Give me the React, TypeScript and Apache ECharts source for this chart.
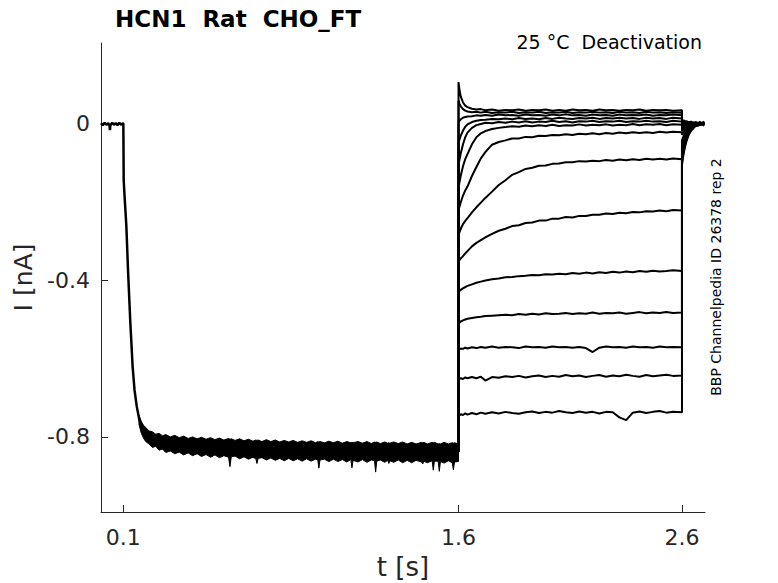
import React, { useEffect, useRef } from "react";
import * as echarts from "echarts";

// ---------- axis ticks ----------
const xTickValues = [0.1, 1.6, 2.6];
const yTickValues = [-0.8, -0.4, 0];

// ---------- holding + conditioning step (shared by all sweeps) ----------
const preT = [0, 0.008, 0.016, 0.024, 0.032, 0.038, 0.04, 0.042, 0.05, 0.058, 0.066, 0.074, 0.082, 0.09, 0.098, 0.1, 0.1008, 0.1015, 0.106, 0.1134, 0.121, 0.131, 0.1415, 0.15, 0.16, 0.17, 0.18, 0.19];
const preI = [0.002, -0.003, 0.003, -0.002, 0.002, -0.004, -0.016, -0.003, 0.003, -0.002, 0.002, -0.003, 0.003, -0.002, 0.002, 0.0, -0.07, -0.143, -0.19, -0.26, -0.375, -0.505, -0.62, -0.68, -0.722, -0.752, -0.772, -0.785];

// noisy band of the overlapping sweeps during the conditioning step (upper / lower envelope)
const bandT = [
  0.17, 0.18, 0.19, 0.2, 0.215, 0.23, 0.245, 0.26, 0.275, 0.29,
  0.31, 0.33, 0.35, 0.37, 0.39, 0.41, 0.43, 0.45, 0.47, 0.49,
  0.51, 0.53, 0.55, 0.571, 0.577, 0.583, 0.6, 0.62, 0.64, 0.66,
  0.68, 0.693, 0.698, 0.703, 0.72, 0.74, 0.76, 0.78, 0.8, 0.82,
  0.84, 0.86, 0.88, 0.9, 0.92, 0.94, 0.96, 0.97, 0.975, 0.98,
  1.0, 1.02, 1.04, 1.06, 1.08, 1.1, 1.118, 1.123, 1.128, 1.15,
  1.17, 1.19, 1.21, 1.224, 1.229, 1.234, 1.25, 1.27, 1.283, 1.288,
  1.293, 1.31, 1.33, 1.35, 1.37, 1.39, 1.41, 1.435, 1.44, 1.445,
  1.46, 1.482, 1.487, 1.492, 1.509, 1.514, 1.519, 1.535, 1.555, 1.572,
  1.577, 1.582, 1.6,
];
const bandUp = [
  -0.745, -0.76, -0.77, -0.776, -0.785, -0.787, -0.793, -0.791, -0.797, -0.794,
  -0.8, -0.796, -0.802, -0.798, -0.804, -0.8, -0.805, -0.801, -0.806, -0.802,
  -0.807, -0.803, -0.808, -0.804, -0.806, -0.805, -0.809, -0.805, -0.81, -0.806,
  -0.811, -0.808, -0.809, -0.808, -0.812, -0.807, -0.812, -0.808, -0.813, -0.809,
  -0.813, -0.809, -0.814, -0.81, -0.814, -0.81, -0.815, -0.812, -0.813, -0.812,
  -0.815, -0.811, -0.815, -0.811, -0.816, -0.812, -0.815, -0.814, -0.815, -0.812,
  -0.816, -0.812, -0.817, -0.813, -0.814, -0.813, -0.817, -0.813, -0.816, -0.815,
  -0.816, -0.813, -0.817, -0.813, -0.818, -0.814, -0.818, -0.814, -0.815, -0.814,
  -0.818, -0.814, -0.815, -0.814, -0.818, -0.817, -0.818, -0.814, -0.818, -0.815,
  -0.816, -0.815, -0.818,
];
const bandLo = [
  -0.768, -0.79, -0.803, -0.812, -0.818, -0.827, -0.824, -0.834, -0.831, -0.84,
  -0.836, -0.843, -0.839, -0.846, -0.841, -0.848, -0.843, -0.85, -0.845, -0.852,
  -0.846, -0.853, -0.848, -0.852, -0.876, -0.851, -0.849, -0.856, -0.851, -0.857,
  -0.852, -0.856, -0.868, -0.855, -0.853, -0.859, -0.854, -0.86, -0.855, -0.861,
  -0.855, -0.861, -0.856, -0.862, -0.856, -0.862, -0.857, -0.858, -0.88, -0.859,
  -0.857, -0.863, -0.857, -0.863, -0.858, -0.864, -0.858, -0.879, -0.86, -0.864,
  -0.858, -0.865, -0.859, -0.861, -0.89, -0.862, -0.859, -0.865, -0.86, -0.868,
  -0.861, -0.865, -0.859, -0.866, -0.86, -0.866, -0.86, -0.864, -0.869, -0.862,
  -0.866, -0.861, -0.885, -0.862, -0.862, -0.888, -0.863, -0.867, -0.861, -0.866,
  -0.884, -0.864, -0.863,
];

const condEnd = -0.838;

// ---------- test pulses (1.6 s .. 2.6 s) ----------
const tailT = [1.6, 1.604, 1.61, 1.62, 1.63, 1.64, 1.66, 1.68, 1.7, 1.72, 1.75, 1.78, 1.81, 1.84, 1.87, 1.9, 1.93, 1.96, 1.99, 2.02, 2.05, 2.08, 2.11, 2.14, 2.17, 2.2, 2.23, 2.26, 2.29, 2.32, 2.35, 2.38, 2.41, 2.44, 2.47, 2.5, 2.53, 2.56, 2.6];

const sweep1 = [-0.748, -0.745, -0.742, -0.744, -0.74, -0.743, -0.739, -0.742, -0.738, -0.741, -0.737, -0.74, -0.736, -0.739, -0.741, -0.737, -0.735, -0.739, -0.736, -0.738, -0.734, -0.737, -0.739, -0.735, -0.738, -0.736, -0.74, -0.736, -0.737, -0.75, -0.757, -0.738, -0.735, -0.739, -0.736, -0.734, -0.738, -0.736, -0.737];
const sweep2 = [-0.655, -0.652, -0.65, -0.652, -0.648, -0.65, -0.647, -0.65, -0.646, -0.656, -0.647, -0.649, -0.645, -0.647, -0.644, -0.648, -0.645, -0.643, -0.647, -0.644, -0.646, -0.642, -0.645, -0.643, -0.647, -0.644, -0.642, -0.646, -0.643, -0.645, -0.641, -0.644, -0.646, -0.642, -0.645, -0.643, -0.641, -0.644, -0.643];
const sweep3 = [-0.578, -0.576, -0.574, -0.575, -0.572, -0.574, -0.571, -0.573, -0.57, -0.572, -0.569, -0.572, -0.57, -0.571, -0.573, -0.569, -0.571, -0.57, -0.572, -0.569, -0.571, -0.57, -0.572, -0.57, -0.573, -0.583, -0.572, -0.569, -0.571, -0.57, -0.572, -0.569, -0.571, -0.57, -0.572, -0.569, -0.571, -0.57, -0.571];
const sweep4 = [-0.512, -0.508, -0.505, -0.502, -0.5, -0.498, -0.496, -0.494, -0.493, -0.491, -0.49, -0.489, -0.488, -0.489, -0.486, -0.488, -0.485, -0.487, -0.484, -0.486, -0.485, -0.483, -0.486, -0.484, -0.485, -0.482, -0.485, -0.483, -0.484, -0.482, -0.485, -0.483, -0.481, -0.484, -0.482, -0.483, -0.481, -0.483, -0.482];
const sweep5 = [-0.43, -0.427, -0.424, -0.42, -0.417, -0.414, -0.41, -0.406, -0.403, -0.4, -0.397, -0.395, -0.392, -0.391, -0.389, -0.388, -0.386, -0.387, -0.384, -0.385, -0.383, -0.384, -0.381, -0.383, -0.38, -0.382, -0.379, -0.381, -0.378, -0.38, -0.377, -0.379, -0.376, -0.378, -0.375, -0.377, -0.376, -0.374, -0.376];
const sweep6 = [-0.352, -0.348, -0.344, -0.338, -0.331, -0.325, -0.313, -0.304, -0.297, -0.29, -0.281, -0.273, -0.268, -0.261, -0.259, -0.253, -0.252, -0.247, -0.247, -0.242, -0.242, -0.238, -0.239, -0.235, -0.235, -0.232, -0.232, -0.229, -0.23, -0.227, -0.228, -0.225, -0.226, -0.223, -0.224, -0.221, -0.223, -0.22, -0.221];
const sweep7 = [-0.283, -0.277, -0.268, -0.256, -0.248, -0.241, -0.226, -0.213, -0.201, -0.189, -0.173, -0.156, -0.144, -0.13, -0.123, -0.115, -0.112, -0.107, -0.106, -0.102, -0.101, -0.098, -0.098, -0.095, -0.096, -0.094, -0.095, -0.092, -0.094, -0.091, -0.093, -0.09, -0.092, -0.089, -0.091, -0.089, -0.091, -0.088, -0.09];
const sweep8 = [-0.219, -0.212, -0.2, -0.183, -0.17, -0.16, -0.133, -0.11, -0.088, -0.072, -0.053, -0.046, -0.042, -0.037, -0.037, -0.033, -0.034, -0.03, -0.031, -0.028, -0.029, -0.026, -0.028, -0.025, -0.026, -0.024, -0.026, -0.023, -0.025, -0.022, -0.024, -0.021, -0.023, -0.021, -0.023, -0.02, -0.022, -0.02, -0.021];
const sweep9 = [-0.163, -0.15, -0.132, -0.108, -0.09, -0.077, -0.052, -0.034, -0.024, -0.018, -0.013, -0.01, -0.008, -0.006, -0.007, -0.004, -0.006, -0.003, -0.005, -0.002, -0.005, -0.003, -0.004, -0.001, -0.004, -0.002, -0.003, -0.001, -0.004, -0.002, -0.003, 0.0, -0.003, -0.001, -0.002, 0.0, -0.003, -0.001, -0.002];
const sweep10 = [-0.104, -0.092, -0.075, -0.052, -0.034, -0.022, -0.01, -0.003, 0.0, 0.003, 0.002, 0.005, 0.003, 0.006, 0.004, 0.007, 0.004, 0.006, 0.005, 0.008, 0.005, 0.007, 0.004, 0.007, 0.006, 0.008, 0.005, 0.007, 0.006, 0.008, 0.005, 0.007, 0.006, 0.008, 0.006, 0.007, 0.005, 0.008, 0.006];
const sweep11 = [-0.048, -0.04, -0.03, -0.017, -0.007, -0.001, 0.005, 0.008, 0.01, 0.011, 0.013, 0.012, 0.014, 0.012, 0.015, 0.013, 0.014, 0.012, 0.015, 0.013, 0.016, 0.014, 0.013, 0.015, 0.014, 0.016, 0.013, 0.015, 0.014, 0.016, 0.014, 0.015, 0.013, 0.016, 0.014, 0.015, 0.013, 0.016, 0.014];
const sweep12 = [0.005, 0.008, 0.012, 0.016, 0.018, 0.019, 0.02, 0.022, 0.021, 0.023, 0.021, 0.024, 0.022, 0.023, 0.021, 0.024, 0.022, 0.023, 0.021, 0.024, 0.022, 0.025, 0.022, 0.023, 0.021, 0.024, 0.022, 0.023, 0.021, 0.024, 0.022, 0.023, 0.022, 0.024, 0.021, 0.023, 0.022, 0.024, 0.022];
const sweep13 = [0.107, 0.088, 0.07, 0.055, 0.047, 0.043, 0.039, 0.037, 0.038, 0.035, 0.037, 0.034, 0.036, 0.035, 0.037, 0.034, 0.036, 0.035, 0.037, 0.034, 0.036, 0.034, 0.037, 0.035, 0.036, 0.034, 0.037, 0.035, 0.036, 0.034, 0.036, 0.035, 0.037, 0.034, 0.036, 0.035, 0.036, 0.034, 0.035];
const sweep14 = [0.06, 0.052, 0.045, 0.038, 0.034, 0.032, 0.03, 0.031, 0.029, 0.031, 0.028, 0.03, 0.029, 0.031, 0.028, 0.03, 0.029, 0.031, 0.028, 0.03, 0.029, 0.031, 0.028, 0.03, 0.029, 0.031, 0.029, 0.03, 0.028, 0.031, 0.029, 0.03, 0.028, 0.031, 0.029, 0.03, 0.028, 0.03, 0.029];

// ---------- return to holding (2.6 s .. 2.7 s) ----------
const postT = [2.6, 2.605, 2.61, 2.615, 2.62, 2.63, 2.64, 2.65, 2.66, 2.68, 2.7];
const post1 = [-0.105, -0.084, -0.068, -0.055, -0.044, -0.028, -0.017, -0.012, -0.004, 0.003, -0.002];
const post2 = [-0.098, -0.078, -0.064, -0.051, -0.041, -0.026, -0.018, -0.009, -0.006, -0.003, 0.004];
const post3 = [-0.09, -0.072, -0.058, -0.047, -0.038, -0.024, -0.015, -0.01, -0.003, 0.004, -0.003];
const post4 = [-0.082, -0.066, -0.053, -0.043, -0.034, -0.022, -0.013, -0.008, -0.005, -0.002, 0.003];
const post5 = [-0.072, -0.058, -0.047, -0.037, -0.03, -0.019, -0.012, -0.006, -0.002, 0.005, -0.001];
const post6 = [-0.058, -0.046, -0.038, -0.03, -0.024, -0.016, -0.009, -0.005, -0.004, -0.001, 0.004];
const post7 = [-0.042, -0.034, -0.027, -0.022, -0.018, -0.011, -0.008, -0.003, 0.002, -0.003, 0.001];
const post8 = [-0.028, -0.022, -0.018, -0.015, -0.012, -0.008, -0.004, -0.002, 0.003, 0.001, -0.004];
const post9 = [-0.018, -0.014, -0.012, -0.009, -0.008, -0.005, -0.002, 0.002, -0.001, 0.004, 0.0];
const post10 = [-0.01, -0.008, -0.006, -0.005, -0.004, -0.002, 0.001, -0.002, 0.003, 0.0, 0.006];
const post11 = [-0.004, -0.003, -0.002, -0.001, 0.002, -0.001, 0.003, 0.0, -0.003, 0.002, -0.002];
const post12 = [0.002, 0.003, 0.001, 0.004, 0.0, 0.003, -0.002, 0.004, 0.001, -0.002, 0.003];
const post13 = [0.01, 0.008, 0.009, 0.006, 0.007, 0.004, 0.006, 0.002, 0.005, 0.001, 0.004];
const post14 = [0.006, 0.007, 0.004, 0.005, 0.003, 0.005, 0.002, 0.004, 0.0, 0.003, -0.001];

const sweeps = [sweep1, sweep2, sweep3, sweep4, sweep5, sweep6, sweep7, sweep8, sweep9, sweep10, sweep11, sweep12, sweep13, sweep14];
const posts = [post1, post2, post3, post4, post5, post6, post7, post8, post9, post10, post11, post12, post13, post14];

const FONT = '"DejaVu Sans", "Liberation Sans", sans-serif';
const AXIS_COLOR = "#262626";

export default function App() {
  const ref = useRef<HTMLDivElement>(null);

  useEffect(() => {
    document.body.style.margin = "0";
    if (!ref.current) return;
    const chart = echarts.init(ref.current, null, { renderer: "svg" });

    const lineBase = {
      type: "line",
      showSymbol: false,
      symbol: "none",
      silent: true,
      clip: true,
      lineStyle: { color: "#000", width: 2 },
    };

    const sweepSeries = sweeps.map((vals, k) => ({
      ...lineBase,
      name: "sweep " + (k + 1),
      data: [[1.6, condEnd]]
        .concat(tailT.map((t, i) => [t, vals[i]]))
        .concat(postT.map((t, i) => [t, posts[k][i]])),
    }));

    const option: any = {
      animation: false,
      backgroundColor: "#ffffff",
      grid: { left: 101, right: 73, top: 43, bottom: 71, containLabel: false, outerBoundsMode: "none" },
      xAxis: {
        type: "value",
        min: 0,
        max: 2.703,
        name: "t [s]",
        nameLocation: "middle",
        nameGap: 42,
        nameTextStyle: { fontFamily: FONT, fontSize: 26, color: AXIS_COLOR },
        axisLine: { show: true, onZero: false, lineStyle: { color: AXIS_COLOR, width: 1 } },
        axisTick: { show: true, inside: true, length: 7, customValues: xTickValues, lineStyle: { color: AXIS_COLOR, width: 1 } },
        axisLabel: {
          customValues: xTickValues,
          formatter: (v: number) => String(v),
          margin: 14,
          fontFamily: FONT,
          fontSize: 22,
          color: AXIS_COLOR,
        },
        splitLine: { show: false },
      },
      yAxis: {
        type: "value",
        min: -0.992,
        max: 0.207,
        name: "I [nA]",
        nameLocation: "middle",
        nameGap: 60,
        nameRotate: 90,
        nameTextStyle: { fontFamily: FONT, fontSize: 25, color: AXIS_COLOR },
        axisLine: { show: true, onZero: false, lineStyle: { color: AXIS_COLOR, width: 1 } },
        axisTick: { show: true, inside: true, length: 7, customValues: yTickValues, lineStyle: { color: AXIS_COLOR, width: 1 } },
        axisLabel: {
          customValues: yTickValues,
          formatter: (v: number) => String(v),
          margin: 11,
          fontFamily: FONT,
          fontSize: 22,
          color: AXIS_COLOR,
        },
        splitLine: { show: false },
      },
      graphic: [
        {
          type: "text",
          x: 115,
          y: 19,
          style: {
            text: "HCN1  Rat  CHO_FT",
            fill: "#000",
            font: 'bold 23px "DejaVu Sans"',
            align: "left",
            verticalAlign: "middle",
            textAlign: "left",
            textVerticalAlign: "middle",
          },
        },
        {
          type: "text",
          x: 702,
          y: 42,
          style: {
            text: "25 °C  Deactivation",
            fill: "#000",
            font: '19px "DejaVu Sans"',
            align: "right",
            verticalAlign: "middle",
            textAlign: "right",
            textVerticalAlign: "middle",
          },
        },
        {
          type: "text",
          x: 716,
          y: 277,
          rotation: Math.PI / 2,
          style: {
            text: "BBP Channelpedia ID 26378 rep 2",
            fill: "#000",
            font: '14px "DejaVu Sans"',
            align: "center",
            verticalAlign: "middle",
            textAlign: "center",
            textVerticalAlign: "middle",
          },
        },
      ],
      series: [
        {
          ...lineBase,
          name: "conditioning",
          lineStyle: { color: "#000", width: 2.5 },
          data: preT.map((t, i) => [t, preI[i]]),
        },
        {
          type: "custom",
          name: "conditioning noise band",
          silent: true,
          clip: true,
          data: bandT.map((t, i) => [t, bandUp[i], bandLo[i]]),
          encode: { x: 0, y: [1, 2] },
          renderItem: (params: any, api: any) => {
            if (params.dataIndex !== 0) return null;
            const pts: number[][] = [];
            for (let i = 0; i < bandT.length; i++) pts.push(api.coord([bandT[i], bandUp[i]]));
            for (let i = bandT.length - 1; i >= 0; i--) pts.push(api.coord([bandT[i], bandLo[i]]));
            return {
              type: "polygon",
              shape: { points: pts },
              style: { fill: "#000", stroke: "#000", lineWidth: 1 },
            };
          },
        },
        ...sweepSeries,
      ],
    };

    chart.setOption(option);
    return () => chart.dispose();
  }, []);

  return <div ref={ref} style={{ width: 778, height: 583 }} />;
}
